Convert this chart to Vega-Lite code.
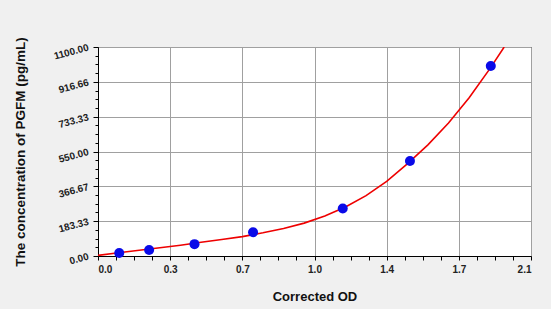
{
  "$schema": "https://vega.github.io/schema/vega-lite/v6.json",
  "width": 433,
  "height": 209,
  "autosize": {"type": "none"},
  "padding": {"left": 98, "top": 47, "right": 20, "bottom": 53},
  "background": "#f0f0f0",
  "config": {
    "view": {"fill": "white", "stroke": "black", "strokeWidth": 1},
    "axis": {"labelFont": "Liberation Sans", "titleFont": "Liberation Sans", "domainColor": "black", "tickColor": "black"}
  },
  "datasets": {
    "curve": [
      {"od": 0.0, "conc": 3}, {"od": 0.1, "conc": 17}, {"od": 0.2, "conc": 30}, {"od": 0.3, "conc": 43},
      {"od": 0.4, "conc": 57}, {"od": 0.5, "conc": 72}, {"od": 0.6, "conc": 87}, {"od": 0.7, "conc": 102},
      {"od": 0.8, "conc": 122}, {"od": 0.9, "conc": 145}, {"od": 1.0, "conc": 173}, {"od": 1.1, "conc": 210},
      {"od": 1.2, "conc": 258}, {"od": 1.3, "conc": 318}, {"od": 1.4, "conc": 393}, {"od": 1.5, "conc": 485},
      {"od": 1.6, "conc": 585}, {"od": 1.7, "conc": 700}, {"od": 1.8, "conc": 833}, {"od": 1.9, "conc": 985},
      {"od": 1.97, "conc": 1100}
    ],
    "std": [
      {"od": 0.103, "conc": 15.63}, {"od": 0.248, "conc": 31.25}, {"od": 0.468, "conc": 62.5},
      {"od": 0.752, "conc": 125}, {"od": 1.187, "conc": 250}, {"od": 1.513, "conc": 500}, {"od": 1.905, "conc": 1000}
    ]
  },
  "layer": [
    {
      "data": {"name": "curve"},
      "mark": {"type": "line", "color": "#ee0000", "strokeWidth": 1.6, "clip": true},
      "encoding": {
        "x": {"field": "od", "type": "quantitative", "scale": {"domain": [0, 2.1], "nice": false, "zero": false},
          "axis": {"title": "Corrected OD", "orient": "bottom", "values": [0, 0.35, 0.7, 1.05, 1.4, 1.75, 2.1],
            "labelExpr": "format(floor(datum.value*10+0.000001)/10, '.1f')",
            "grid": true, "gridColor": "#a0a0a0", "gridOpacity": 1, "tickSize": 4, "labelPadding": 4,
            "labelFontSize": 10, "labelFontWeight": "bold", "labelColor": "#222222",
            "titleFontSize": 13, "titleFontWeight": "bold", "titleColor": "#111111", "titleY": 40, "titleBaseline": "middle"}},
        "y": {"field": "conc", "type": "quantitative", "scale": {"domain": [0, 1100], "nice": false, "zero": false},
          "axis": {"title": "The concentration of PGFM (pg/mL)", "orient": "left",
            "values": [0, 183.33, 366.67, 550, 733.33, 916.66, 1100], "format": ".2f",
            "grid": true, "gridColor": "#a0a0a0", "gridOpacity": 1, "tickSize": 5, "labelPadding": 5,
            "labelAngle": -15, "labelFontSize": 10, "labelFontWeight": "bold", "labelColor": "#222222",
            "titleFontSize": 13.5, "titleFontWeight": "bold", "titleColor": "#111111", "titleX": -78, "titleBaseline": "middle"}}
      }
    },
    {
      "data": {"name": "std"},
      "mark": {"type": "point", "filled": true, "color": "#0a0ae8", "opacity": 1, "size": 100},
      "encoding": {
        "x": {"field": "od", "type": "quantitative",
          "axis": {"title": null, "orient": "bottom", "labels": false, "grid": false, "domain": false, "tickSize": 4,
            "values": [0.0875, 0.175, 0.2625, 0.4375, 0.525, 0.6125, 0.7875, 0.875, 0.9625, 1.1375, 1.225, 1.3125, 1.4875, 1.575, 1.6625, 1.8375, 1.925, 2.0125]}},
        "y": {"field": "conc", "type": "quantitative",
          "axis": {"title": null, "orient": "left", "labels": false, "grid": false, "domain": false, "tickSize": 3,
            "values": [45.83, 91.67, 137.5, 229.17, 275, 320.83, 412.5, 458.33, 504.17, 595.83, 641.67, 687.5, 779.17, 825, 870.83, 962.5, 1008.33, 1054.17]}}
      }
    }
  ],
  "resolve": {"axis": {"x": "independent", "y": "independent"}}
}
